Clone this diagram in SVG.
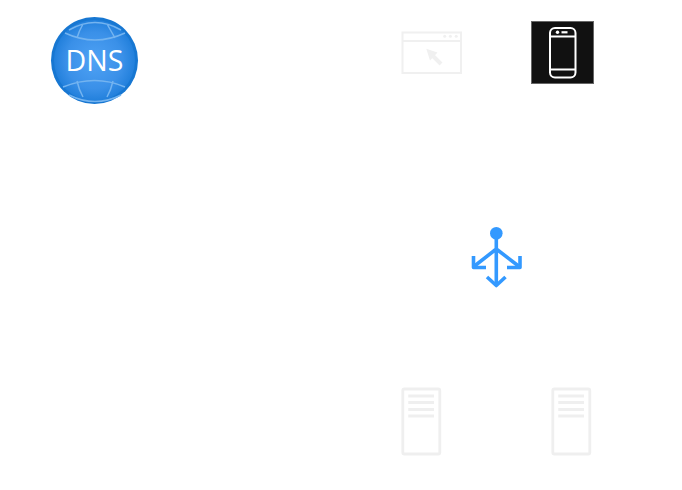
<svg xmlns="http://www.w3.org/2000/svg" width="682" height="490" viewBox="0 0 682 490">
<style>
.pale{fill:none;stroke:#f0f0f0;stroke-width:2}
.srv{fill:none;stroke:#efefef;stroke-width:2.800}
.bar{fill:none;stroke:#efefef;stroke-width:2.800}
.globe{fill:none;stroke:#74b4f0;stroke-width:1.500}
.ph{fill:none;stroke:#fff;stroke-width:2}
.blue{fill:none;stroke:#3399ff;stroke-width:3.600}
</style>
<defs>
<radialGradient id="g" cx="50%" cy="50%" r="50%"><stop offset="0" stop-color="#4fa2f5"/><stop offset="0.7" stop-color="#3a90e8"/><stop offset="1" stop-color="#2280dc"/></radialGradient>
</defs>
<rect width="682" height="490" fill="#fff"/>
<g id="dns">
<circle cx="94.500" cy="60.500" r="43.500" fill="#1777d2"/>
<circle cx="94.500" cy="60.500" r="40.500" fill="url(#g)"/>
<g class="globe">
<path d="M69 30Q95 15 121 30M65 33Q95 47 125 33M83 24Q79 31 77 38M107 24Q111 31 115 38"/>
<path d="M69 95Q95 108 121 95M63 87Q95 74 125 87M77 81Q79 90 83 97M113 81Q111 90 107 97"/>
</g>
<text x="94.500" y="70.500" font-family="'Open Sans','Noto Sans',sans-serif" font-size="28.500" fill="#fff" text-anchor="middle">DNS</text>
</g>
<g id="browser">
<rect x="402.500" y="32.500" width="58.500" height="40.500" class="pale"/>
<path d="M402.500 41H461" class="pale"/>
<circle cx="444.700" cy="36.200" r="1.500" fill="#f0f0f0"/>
<circle cx="450.400" cy="36.200" r="1.500" fill="#f0f0f0"/>
<circle cx="456.200" cy="36.200" r="1.500" fill="#f0f0f0"/>
<path d="M426.300 48.700L437.500 52.500L430 60.500Z" fill="#f0f0f0"/>
<path d="M432 55L441 64" fill="none" stroke="#f0f0f0" stroke-width="4"/>
</g>
<g id="phone">
<rect x="531.500" y="21.500" width="62" height="62" fill="#111" stroke="#666" stroke-width="1"/>
<rect x="550" y="28" width="25.500" height="49.500" rx="5" class="ph"/>
<path d="M550 36.500H575.500M550 69.500H575.500" class="ph"/>
<circle cx="557.500" cy="32.300" r="1.700" fill="#fff"/>
<rect x="561.500" y="31.200" width="6" height="2.200" fill="#fff"/>
</g>
<g id="router">
<circle cx="496.300" cy="233.300" r="6.300" fill="#3399ff"/>
<path d="M496.300 238V285M496.300 249L474.500 266M496.300 249L518.500 266" class="blue"/>
<path d="M487 277L496.300 285.500L505.500 277M473.500 256V267.500H486M520 256V267.500H507" stroke-linejoin="round" class="blue"/>
</g>
<g id="server1">
<rect x="402.800" y="389" width="37" height="65" rx="1.500" class="srv"/>
<path d="M408.300 396H434M408.300 402.500H434M408.300 409.500H434M408.300 416H434" class="bar"/>
</g>
<g id="server2">
<rect x="552.800" y="389" width="37" height="65" rx="1.500" class="srv"/>
<path d="M558.300 396H584M558.300 402.500H584M558.300 409.500H584M558.300 416H584" class="bar"/>
</g>
<g id="connectors"/>
</svg>
